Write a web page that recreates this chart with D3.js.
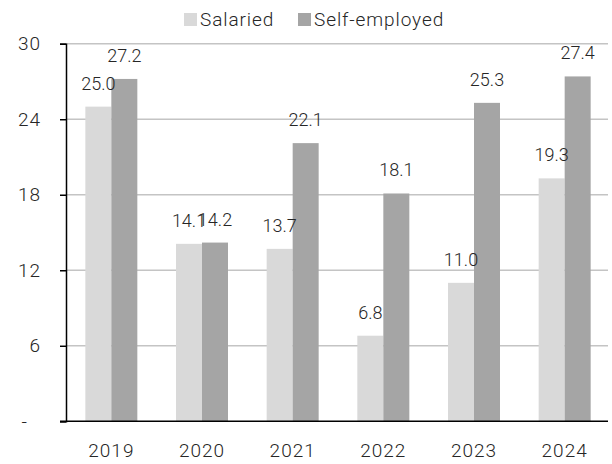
<!DOCTYPE html>
<html>
<head>
<meta charset="utf-8">
<script src="https://cdn.jsdelivr.net/npm/d3@7"></script>
<style>
  html, body { margin: 0; padding: 0; background: #fff; }
  svg { display: block; font-family: Roboto, "Noto Sans", sans-serif; font-weight: 300; }
</style>
</head>
<body>
<svg id="chart" width="612" height="464"></svg>
<script>
// Chart data
const years = ["2019", "2020", "2021", "2022", "2023", "2024"];
const seriesNames = ["Salaried", "Self-employed"];
const salaried = [25.0, 14.1, 13.7, 6.8, 11.0, 19.3];
const selfEmployed = [27.2, 14.2, 22.1, 18.1, 25.3, 27.4];
const yTicks = [0, 6, 12, 18, 24, 30];

const colors = { "Salaried": "#d9d9d9", "Self-employed": "#a5a5a5" };
const textColor = "#262626";

const svg = d3.select("#chart");
const plotLeft = 66, plotRight = 610, plotTop = 43.7, plotBottom = 421.3;

const rows = years.map((yr, i) => ({
  year: yr,
  values: [
    { key: "Salaried", value: salaried[i] },
    { key: "Self-employed", value: selfEmployed[i] }
  ]
}));

const x0 = d3.scaleBand().domain(years).range([plotLeft, plotRight])
  .paddingInner(0.4265).paddingOuter(0.2133);
const x1 = d3.scaleBand().domain(seriesNames).range([0, x0.bandwidth()]);
const y = d3.scaleLinear().domain([0, 30]).range([plotBottom, plotTop]);

// Horizontal gridlines
svg.append("g")
  .selectAll("line")
  .data(yTicks.filter(t => t > 0))
  .join("line")
  .attr("x1", plotLeft).attr("x2", 608)
  .attr("y1", d => y(d)).attr("y2", d => y(d))
  .attr("stroke", "#c4c4c4").attr("stroke-width", 1.5);

// Bars
const groups = svg.append("g").selectAll("g")
  .data(rows).join("g")
  .attr("transform", d => `translate(${x0(d.year)},0)`);

groups.selectAll("rect")
  .data(d => d.values).join("rect")
  .attr("x", d => x1(d.key))
  .attr("width", x1.bandwidth())
  .attr("y", d => y(d.value))
  .attr("height", d => y(0) - y(d.value))
  .attr("fill", d => colors[d.key]);

// Value labels
groups.selectAll("text")
  .data(d => d.values).join("text")
  .attr("x", d => x1(d.key) + x1.bandwidth() / 2)
  .attr("y", d => y(d.value) - 17)
  .attr("text-anchor", "middle")
  .attr("font-size", 18)
  .attr("fill", textColor)
  .text(d => d.value.toFixed(1));

// Y axis
const yAxis = svg.append("g")
  .attr("transform", `translate(${plotLeft},0)`)
  .call(d3.axisLeft(y).tickValues(yTicks).tickSize(6).tickPadding(19)
    .tickFormat(d => d === 0 ? "-" : d3.format("d")(d)));
yAxis.select(".domain").attr("stroke", "#000").attr("stroke-width", 1.5);
yAxis.selectAll(".tick line").attr("stroke", "#000").attr("stroke-width", 1.5);
yAxis.selectAll(".tick text")
  .attr("font-size", 19).attr("fill", textColor).attr("letter-spacing", 1)
  .attr("font-family", "Roboto, sans-serif").attr("font-weight", 300);
yAxis.selectAll(".tick").filter(d => d === 0).select("text").attr("x", -38);

// X axis
const xAxis = svg.append("g")
  .attr("transform", `translate(0,${plotBottom})`)
  .call(d3.axisBottom(x0).tickSize(0).tickPadding(22));
xAxis.select(".domain").remove();
xAxis.selectAll(".tick text")
  .attr("font-size", 19).attr("fill", textColor).attr("letter-spacing", 1)
  .attr("font-family", "Roboto, sans-serif").attr("font-weight", 300);
svg.append("line")
  .attr("x1", 60).attr("x2", 608)
  .attr("y1", plotBottom).attr("y2", plotBottom)
  .attr("stroke", "#000").attr("stroke-width", 1.5);

// Legend
const legendX = [184, 298];
const legend = svg.append("g").selectAll("g")
  .data(seriesNames).join("g")
  .attr("transform", (d, i) => `translate(${legendX[i]},13)`);
legend.append("rect")
  .attr("width", 13).attr("height", 13)
  .attr("fill", d => colors[d]);
legend.append("text")
  .attr("x", 16).attr("y", 13)
  .attr("font-size", 19).attr("fill", textColor).attr("letter-spacing", 0.9)
  .text(d => d);
</script>
</body>
</html>
